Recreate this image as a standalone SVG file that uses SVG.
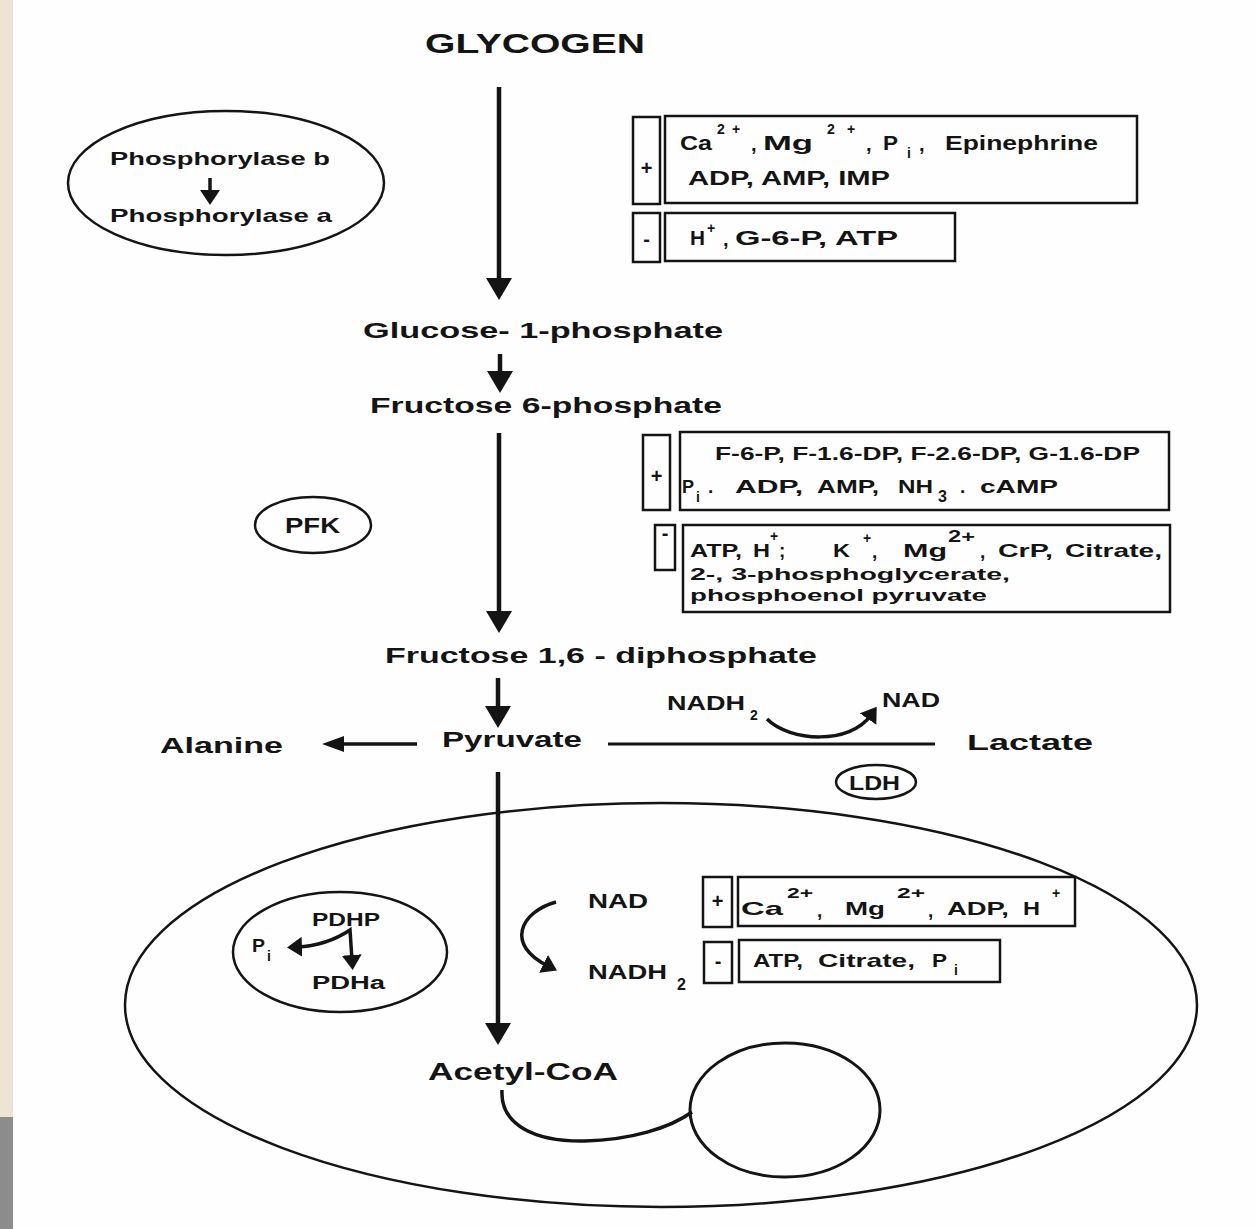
<svg xmlns="http://www.w3.org/2000/svg" width="1256" height="1229" viewBox="0 0 1256 1229">
  <defs>
    <style>
      text { font-family: "Liberation Sans", Arial, sans-serif; font-weight: bold; fill: #141414; }
      .big { font-size: 27px; }
      .lbl { font-size: 22px; }
      .md { font-size: 20px; }
      .reg { font-size: 19px; }
      .sm { font-size: 18px; }
      .xs { font-size: 17px; }
      .sup { font-size: 14px; }
      .sign { font-size: 20px; text-anchor: middle; }
      .ln { fill: none; stroke: #141414; stroke-width: 2.5; }
      .box { fill: none; stroke: #141414; stroke-width: 2.5; }
      .flow { fill: none; stroke: #141414; stroke-width: 4.5; }
      .thin { fill: none; stroke: #141414; stroke-width: 3.5; }
    </style>
    <marker id="headBig" markerUnits="userSpaceOnUse" markerWidth="22" markerHeight="26" refX="10" refY="13" orient="auto">
      <path d="M0,0 L22,13 L0,26 z" fill="#141414"/>
    </marker>
    <marker id="headMid" markerUnits="userSpaceOnUse" markerWidth="22" markerHeight="16" refX="10" refY="8" orient="auto">
      <path d="M0,0 L22,8 L0,16 z" fill="#141414"/>
    </marker>
    <marker id="headSm" markerUnits="userSpaceOnUse" markerWidth="15" markerHeight="20" refX="5" refY="10" orient="auto-start-reverse">
      <path d="M0,0 L15,10 L0,20 z" fill="#141414"/>
    </marker>
  </defs>

  <!-- page -->
  <rect x="0" y="0" width="1256" height="1229" fill="#fefefe"/>
  <rect x="0" y="0" width="13" height="1117" fill="#ede4d3"/>
  <rect x="0" y="1117" width="13" height="112" fill="#8c8c8c"/>

  <!-- connectors -->
  <g id="connectors">
    <line class="flow" x1="499" y1="87" x2="499" y2="288" marker-end="url(#headBig)"/>
    <line class="flow" x1="500" y1="354" x2="500" y2="381" marker-end="url(#headBig)"/>
    <line class="flow" x1="499" y1="433" x2="499" y2="621" marker-end="url(#headBig)"/>
    <line class="flow" x1="498" y1="678" x2="498" y2="716" marker-end="url(#headBig)"/>
    <line class="flow" x1="498" y1="772" x2="498" y2="1033" marker-end="url(#headBig)"/>
    <line class="thin" x1="417" y1="744" x2="334" y2="744" marker-end="url(#headMid)"/>
    <line class="ln" x1="608" y1="744" x2="935" y2="744" style="stroke-width:3.2"/>
    <path class="thin" d="M767,719 C790,742 850,745 871,715" marker-end="url(#headSm)"/>
    <line class="thin" x1="210" y1="178" x2="210" y2="195" marker-end="url(#headSm)"/>
    <path class="thin" d="M297,947 C320,946 338,938 350,930 L352,960" marker-start="url(#headSm)" marker-end="url(#headSm)"/>
    <path class="thin" d="M556,902 C520,912 505,945 548,966" marker-end="url(#headSm)"/>
    <path class="thin" d="M502,1090 C500,1125 535,1142 585,1141 C630,1140 670,1128 692,1112"/>
  </g>

  <!-- pathway metabolites -->
  <g id="glycogen">
    <text class="big" x="425" y="53" textLength="220" lengthAdjust="spacingAndGlyphs">GLYCOGEN</text>
  </g>
  <g id="glucose-1-phosphate">
    <text class="lbl" x="363" y="338" textLength="360" lengthAdjust="spacingAndGlyphs">Glucose- 1-phosphate</text>
  </g>
  <g id="fructose-6-phosphate">
    <text class="lbl" x="370" y="413" textLength="352" lengthAdjust="spacingAndGlyphs">Fructose 6-phosphate</text>
  </g>
  <g id="fructose-1-6-diphosphate">
    <text class="lbl" x="385" y="663" textLength="432" lengthAdjust="spacingAndGlyphs">Fructose  1,6 - diphosphate</text>
  </g>
  <g id="pyruvate">
    <text class="lbl" x="442" y="747" textLength="140" lengthAdjust="spacingAndGlyphs">Pyruvate</text>
  </g>
  <g id="alanine">
    <text class="lbl" x="160" y="753" textLength="123" lengthAdjust="spacingAndGlyphs">Alanine</text>
  </g>
  <g id="lactate">
    <text class="lbl" x="967" y="750" textLength="126" lengthAdjust="spacingAndGlyphs">Lactate</text>
  </g>
  <g id="nadh-ldh">
    <text class="md" x="667" y="710" textLength="78" lengthAdjust="spacingAndGlyphs">NADH</text>
    <text class="sup" x="750" y="720">2</text>
  </g>
  <g id="nad-ldh">
    <text class="md" x="882" y="707" textLength="58" lengthAdjust="spacingAndGlyphs">NAD</text>
  </g>
  <g id="acetyl-coa">
    <text class="lbl" x="428" y="1080" style="font-size:24px" textLength="190" lengthAdjust="spacingAndGlyphs">Acetyl-CoA</text>
  </g>

  <!-- enzymes -->
  <g id="phosphorylase">
    <ellipse class="ln" cx="226" cy="183" rx="158" ry="72"/>
    <text class="reg" x="110" y="165" textLength="220" lengthAdjust="spacingAndGlyphs">Phosphorylase  b</text>
    <text class="reg" x="110" y="222" textLength="222" lengthAdjust="spacingAndGlyphs">Phosphorylase  a</text>
  </g>
  <g id="pfk">
    <ellipse class="ln" cx="313" cy="525" rx="58" ry="28"/>
    <text class="lbl" x="285" y="533" textLength="55" lengthAdjust="spacingAndGlyphs">PFK</text>
  </g>
  <g id="ldh">
    <ellipse class="ln" cx="876" cy="782" rx="40" ry="17"/>
    <text class="md" x="849" y="790" textLength="51" lengthAdjust="spacingAndGlyphs">LDH</text>
  </g>

  <!-- phosphorylase modulators -->
  <g id="phosphorylase-activators">
    <rect class="box" x="633" y="117" width="27" height="87"/>
    <text class="sign" x="646.5" y="175">+</text>
    <rect class="box" x="665" y="116" width="472" height="87"/>
    <text class="md" x="680" y="150" textLength="32" lengthAdjust="spacingAndGlyphs">Ca</text>
    <text class="sup" x="717" y="134">2</text>
    <text class="sup" x="732" y="134">+</text>
    <text class="md" x="751" y="151">,</text>
    <text class="md" x="763" y="150" textLength="50" lengthAdjust="spacingAndGlyphs">Mg</text>
    <text class="sup" x="827" y="134">2</text>
    <text class="sup" x="847" y="134">+</text>
    <text class="md" x="866" y="151">,</text>
    <text class="md" x="883" y="150" textLength="15" lengthAdjust="spacingAndGlyphs">P</text>
    <text class="sup" x="907" y="158">i</text>
    <text class="md" x="919" y="151">,</text>
    <text class="md" x="945" y="150" textLength="153" lengthAdjust="spacingAndGlyphs">Epinephrine</text>
    <text class="md" x="688" y="185" textLength="202" lengthAdjust="spacingAndGlyphs">ADP,  AMP,  IMP</text>
  </g>
  <g id="phosphorylase-inhibitors">
    <rect class="box" x="633" y="213" width="27" height="49"/>
    <text class="sign" x="646.5" y="246">-</text>
    <rect class="box" x="665" y="213" width="290" height="48"/>
    <text class="md" x="690" y="245" textLength="15" lengthAdjust="spacingAndGlyphs">H</text>
    <text class="sup" x="707" y="233">+</text>
    <text class="md" x="723" y="246">,</text>
    <text class="md" x="735" y="245" textLength="163" lengthAdjust="spacingAndGlyphs">G-6-P,  ATP</text>
  </g>

  <!-- PFK modulators -->
  <g id="pfk-activators">
    <rect class="box" x="643" y="435" width="27" height="75"/>
    <text class="sign" x="656.5" y="483">+</text>
    <rect class="box" x="680" y="432" width="489" height="78"/>
    <text class="reg" x="715" y="460" textLength="425" lengthAdjust="spacingAndGlyphs">F-6-P,  F-1.6-DP,  F-2.6-DP,  G-1.6-DP</text>
    <text class="reg" x="682" y="493" textLength="12" lengthAdjust="spacingAndGlyphs">P</text>
    <text class="sup" x="696" y="502">i</text>
    <text class="reg" x="708" y="493">.</text>
    <text class="reg" x="735" y="493" textLength="68" lengthAdjust="spacingAndGlyphs">ADP,</text>
    <text class="reg" x="817" y="493" textLength="62" lengthAdjust="spacingAndGlyphs">AMP,</text>
    <text class="reg" x="898" y="493" textLength="35" lengthAdjust="spacingAndGlyphs">NH</text>
    <text class="sup" x="938" y="502" style="font-size:16px">3</text>
    <text class="reg" x="960" y="493">.</text>
    <text class="reg" x="980" y="493" textLength="78" lengthAdjust="spacingAndGlyphs">cAMP</text>
  </g>
  <g id="pfk-inhibitors">
    <rect class="box" x="655" y="525" width="20" height="45"/>
    <text class="sign" x="665" y="540">-</text>
    <rect class="box" x="683" y="525" width="487" height="87"/>
    <text class="reg" x="690" y="557" textLength="52" lengthAdjust="spacingAndGlyphs">ATP,</text>
    <text class="reg" x="753" y="557" textLength="17" lengthAdjust="spacingAndGlyphs">H</text>
    <text class="sup" x="770" y="541">+</text>
    <text class="reg" x="779" y="557">;</text>
    <text class="reg" x="833" y="557" textLength="17" lengthAdjust="spacingAndGlyphs">K</text>
    <text class="sup" x="863" y="543">+</text>
    <text class="reg" x="872" y="558">,</text>
    <text class="reg" x="903" y="557" textLength="44" lengthAdjust="spacingAndGlyphs">Mg</text>
    <text class="sup" x="948" y="542" style="font-size:17px" textLength="27" lengthAdjust="spacingAndGlyphs">2+</text>
    <text class="reg" x="980" y="558">,</text>
    <text class="reg" x="998" y="557" textLength="55" lengthAdjust="spacingAndGlyphs">CrP,</text>
    <text class="reg" x="1065" y="557" textLength="97" lengthAdjust="spacingAndGlyphs">Citrate,</text>
    <text class="xs" x="690" y="580" textLength="320" lengthAdjust="spacingAndGlyphs">2-,  3-phosphoglycerate,</text>
    <text class="xs" x="690" y="601" textLength="297" lengthAdjust="spacingAndGlyphs">phosphoenol pyruvate</text>
  </g>

  <!-- mitochondrion -->
  <g id="mitochondrion">
    <ellipse class="ln" cx="661" cy="1005" rx="536" ry="202"/>
  </g>
  <g id="pdh-complex">
    <ellipse class="ln" cx="340" cy="952" rx="107" ry="60"/>
    <text class="sm" x="312" y="926" textLength="68" lengthAdjust="spacingAndGlyphs">PDHP</text>
    <text class="sm" x="252" y="952" textLength="13" lengthAdjust="spacingAndGlyphs">P</text>
    <text class="sup" x="267" y="961">i</text>
    <text class="sm" x="312" y="989" textLength="73" lengthAdjust="spacingAndGlyphs">PDHa</text>
  </g>
  <g id="nad-pdh">
    <text class="md" x="588" y="908" textLength="60" lengthAdjust="spacingAndGlyphs">NAD</text>
  </g>
  <g id="nadh-pdh">
    <text class="md" x="588" y="979" textLength="79" lengthAdjust="spacingAndGlyphs">NADH</text>
    <text class="sup" x="677" y="990" style="font-size:16px">2</text>
  </g>
  <g id="pdh-activators">
    <rect class="box" x="703" y="877" width="29" height="50"/>
    <text class="sign" x="717.5" y="908">+</text>
    <rect class="box" x="738" y="877" width="337" height="49"/>
    <text class="reg" x="741" y="915" textLength="42" lengthAdjust="spacingAndGlyphs">Ca</text>
    <text class="sup" x="787" y="898" textLength="26" lengthAdjust="spacingAndGlyphs">2+</text>
    <text class="reg" x="817" y="917">,</text>
    <text class="reg" x="845" y="915" textLength="40" lengthAdjust="spacingAndGlyphs">Mg</text>
    <text class="sup" x="897" y="898" textLength="28" lengthAdjust="spacingAndGlyphs">2+</text>
    <text class="reg" x="928" y="917">,</text>
    <text class="reg" x="947" y="915" textLength="62" lengthAdjust="spacingAndGlyphs">ADP,</text>
    <text class="reg" x="1023" y="915" textLength="17" lengthAdjust="spacingAndGlyphs">H</text>
    <text class="sup" x="1052" y="898">+</text>
  </g>
  <g id="pdh-inhibitors">
    <rect class="box" x="704" y="942" width="28" height="41"/>
    <text class="sign" x="718" y="968">-</text>
    <rect class="box" x="739" y="940" width="261" height="42"/>
    <text class="reg" x="753" y="967" textLength="50" lengthAdjust="spacingAndGlyphs">ATP,</text>
    <text class="reg" x="818" y="967" textLength="97" lengthAdjust="spacingAndGlyphs">Citrate,</text>
    <text class="reg" x="932" y="967" textLength="15" lengthAdjust="spacingAndGlyphs">P</text>
    <text class="sup" x="954" y="975">i</text>
  </g>
  <g id="krebs-cycle">
    <ellipse class="ln" cx="785" cy="1110" rx="95" ry="67" style="stroke-width:3"/>
  </g>
</svg>
